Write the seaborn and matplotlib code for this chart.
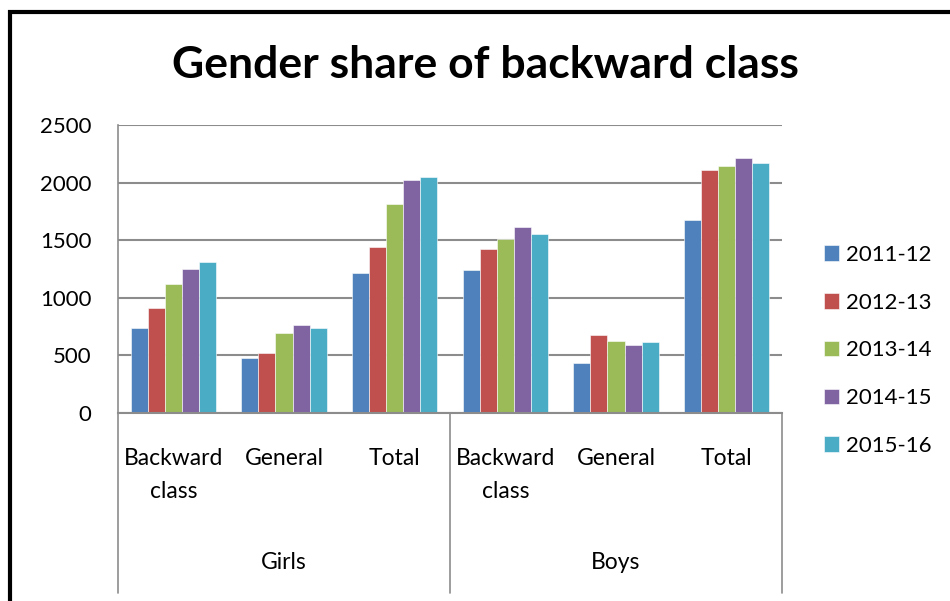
import matplotlib
matplotlib.use("Agg")
import matplotlib.pyplot as plt
import seaborn as sns
import pandas as pd
from matplotlib.patches import Rectangle
from matplotlib.lines import Line2D

# ---- data ----
groups = ["Girls", "Boys"]
subcats = ["Backward\nclass", "General", "Total"]
years = ["2011-12", "2012-13", "2013-14", "2014-15", "2015-16"]
girls_backward = [735, 911, 1119, 1254, 1312]
girls_general = [476, 525, 692, 761, 735]
girls_total = [1211, 1445, 1817, 2021, 2050]
boys_backward = [1237, 1421, 1508, 1612, 1554]
boys_general = [430, 680, 626, 594, 614]
boys_total = [1672, 2108, 2140, 2212, 2174]
yticks = [0, 500, 1000, 1500, 2000, 2500]
colors = ["#4F81BD", "#C0504D", "#9BBB59", "#8064A2", "#4BACC6"]

series = {
    ("Girls", subcats[0]): girls_backward,
    ("Girls", subcats[1]): girls_general,
    ("Girls", subcats[2]): girls_total,
    ("Boys", subcats[0]): boys_backward,
    ("Boys", subcats[1]): boys_general,
    ("Boys", subcats[2]): boys_total,
}
rows = []
order = []
for (g, s), vals in series.items():
    key = f"{g}|{s}"
    order.append(key)
    for y, v in zip(years, vals):
        rows.append({"cat": key, "year": y, "value": v})
df = pd.DataFrame(rows)

sns.set_theme(style="white")
plt.rcParams["font.family"] = ["Lato", "DejaVu Sans"]
plt.rcParams["text.color"] = "black"

W, H = 950, 601
fig = plt.figure(figsize=(W / 100, H / 100), dpi=100)
ax = fig.add_axes([118 / W, 1 - 413 / H, (782 - 118) / W, (413 - 125) / H])

sns.barplot(data=df, x="cat", y="value", hue="year", order=order,
            hue_order=years, palette=colors, saturation=1, width=0.77,
            edgecolor="white", linewidth=0.4, ax=ax)

ax.set_xlim(-0.5, 5.5)
ax.set_ylim(0, 2500)
ax.set_yticks(yticks)
ax.set_yticklabels([str(t) for t in yticks], fontsize=16, color="black")
ax.tick_params(axis="y", length=0, pad=19)
ax.set_xticks([])
ax.set_xlabel("")
ax.set_ylabel("")
grid_c = "#8C8C8C"
ax.yaxis.grid(True, color=grid_c, linewidth=1.5)
ax.set_axisbelow(True)
for side in ["top", "right"]:
    ax.spines[side].set_visible(False)
ax.spines["left"].set_color(grid_c)
ax.spines["left"].set_linewidth(1.2)
ax.spines["bottom"].set_color(grid_c)
ax.spines["bottom"].set_linewidth(1.5)

# multi-level category axis
trans = ax.get_xaxis_transform()
for i, key in enumerate(order):
    sub = key.split("|")[1]
    ax.text(i, -0.122, sub, transform=trans, ha="center", va="top",
            fontsize=16.5, linespacing=1.7, clip_on=False, color="black")
for gi, g in enumerate(groups):
    ax.text(gi * 3 + 1, -0.52, g, transform=trans, ha="center", va="center",
            fontsize=16.5, clip_on=False, color="black")
for xb in [-0.5, 2.5, 5.5]:
    ax.add_line(Line2D([xb, xb], [0, -0.625], transform=trans, color=grid_c,
                       linewidth=1.2, clip_on=False))

# legend
handles, labels = ax.get_legend_handles_labels()
leg = ax.legend(handles, labels, loc="upper left", bbox_to_anchor=(815 / W, 1 - 236 / H),
                bbox_transform=fig.transFigure, frameon=False, fontsize=16,
                handlelength=0.7, handleheight=0.7, handletextpad=0.3,
                labelspacing=1.25, borderaxespad=0)
for t in leg.get_texts():
    t.set_color("black")

# title
fig.text(485 / W, 1 - 78 / H, "Gender share of backward class", ha="center",
         va="baseline", fontsize=32, fontweight="bold", color="black")

# outer black frame (cropped on right and bottom)
fig.patches.append(Rectangle((10 / W, -0.2), 1.5, 1.2 - 12 / H,
                             transform=fig.transFigure, fill=False,
                             edgecolor="black", linewidth=3))

fig.savefig("out.png", dpi=100, facecolor="white")
